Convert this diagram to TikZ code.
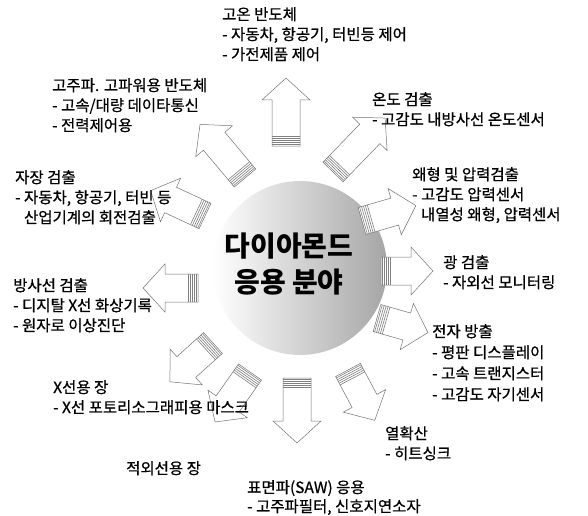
\documentclass[tikz,border=0pt]{standalone}
\usepackage{fontspec}
\setmainfont{Noto Sans CJK KR}
\newfontfamily\lf{Noto Sans CJK KR}[FakeBold=0.6]
\newcommand{\blockarr}[4]{%
 \begin{scope}[shift={(#1,515-#2)}, rotate=#3]
  \draw[arrline] (0,-14) -- (#4-22,-14) -- (#4-22,-24) -- (#4,0) -- (#4-22,24) -- (#4-22,14) -- (0,14) -- cycle;
  \foreach \s in {1.5,3.5,5.5,7.5,9.5} \draw[stripe] (\s,-14) -- (\s,14);
 \end{scope}}
\begin{document}
\begin{tikzpicture}[x=1pt,y=1pt,
  arrline/.style={draw=black!55, line width=0.5pt, fill=white, line join=miter},
  stripe/.style={draw=black!50, line width=0.6pt},
  lbl/.style={anchor=north west, inner sep=0pt, align=left, font=\lf\fontsize{15.5}{20}\selectfont},
  lblb/.style={lbl, font=\lf\fontsize{15.5}{21}\selectfont},
  lbls/.style={lbl, font=\lf\fontsize{15.5}{19}\selectfont},
  ctr/.style={inner sep=0pt, align=center, font=\fontsize{28}{36}\selectfont\bfseries}]
\useasboundingbox (0,0) rectangle (588,515);
\fill[white] (0,0) rectangle (588,515);
% central sphere
\shade[left color=white, right color=black!35] (300,515-268) circle (87);
% arrows
\blockarr{286}{146}{90}{68}
\blockarr{245}{178}{130}{70}
\blockarr{333}{172}{46}{75}
\blockarr{205}{216}{155}{60}
\blockarr{362}{221}{16}{56}
\blockarr{198}{288}{180}{55}
\blockarr{381}{271}{0}{52}
\blockarr{377}{318}{-16}{53}
\blockarr{348}{370}{-62}{57}
\blockarr{297}{378}{-90}{65}
\blockarr{250}{372}{-125}{61}
\blockarr{213}{343}{-138}{58}
% center text
\node[ctr] (c) at (289,515-264) {다이아몬드\\응용 분야};
% labels
\node[lbl] (t1) at (222,515-7) {고온 반도체\\- 자동차, 항공기, 터빈등 제어\\- 가전제품 제어};
\node[lbl] (t2) at (52,515-78) {고주파. 고파워용 반도체\\- 고속/대량 데이타통신\\- 전력제어용};
\node[lbl] (t3) at (372,515-92) {온도 검출\\- 고감도 내방사선 온도센서};
\node[lbl] (t4) at (412,515-167) {왜형 및 압력검출\\- 고감도 압력센서\\\phantom{- }내열성 왜형, 압력센서};
\node[lbl] (t5) at (15,515-170) {자장 검출\\- 자동차, 항공기, 터빈 등\\\phantom{- }산업기계의 회전검출};
\node[lbl] (t6) at (13,515-278) {방사선 검출\\- 디지탈 X선 화상기록\\- 원자로 이상진단};
\node[lbl] (t7) at (443,515-255) {광 검출\\- 자외선 모니터링};
\node[lblb] (t8) at (432,515-324) {전자 방출\\- 평판 디스플레이\\- 고속 트랜지스터\\- 고감도 자기센서};
\node[lbl] (t9) at (385,515-426) {열확산\\- 히트싱크};
\node[lbls] (t10) at (247,515-480) {표면파(SAW) 응용\\- 고주파필터, 신호지연소자};
\node[lbl] (t11) at (126,515-461) {적외선용 장};
\node[lbl] (t12) at (53,515-380) {X선용 장\\- X선 포토리소그래피용 마스크};
\end{tikzpicture}
\end{document}
